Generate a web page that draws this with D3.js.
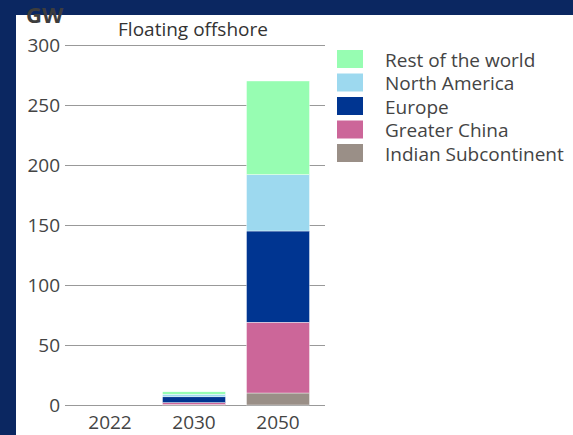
<!DOCTYPE html>
<html>
<head>
<meta charset="utf-8">
<script src="https://cdn.jsdelivr.net/npm/d3@7"></script>
<style>
  html, body { margin: 0; padding: 0; background: #0b2761; }
  svg { display: block; }
</style>
</head>
<body>
<svg></svg>
<script>
///////////////////////////////////////////
// Data
var years = ["2022", "2030", "2050"];
var regions = ["Indian Subcontinent", "Greater China", "Europe", "North America", "Rest of the world"];
var indianSub = [0, 0.3, 10];
var greaterChina = [0, 1.7, 59];
var europe = [0, 4.8, 76];
var northAmerica = [0, 2.2, 47];
var restOfWorld = [0, 2, 78];
var yTicks = [0, 50, 100, 150, 200, 250, 300];
var colors = ["#9a8f87", "#cc6699", "#003591", "#9dd9ef", "#97fdb2"];

///////////////////////////////////////////
// Layout
var svgWidth = 573, svgHeight = 435;
var svg = d3.select("svg").attr("width", svgWidth).attr("height", svgHeight);

// dark blue frame, white panel
svg.append("rect").attr("width", svgWidth).attr("height", svgHeight).attr("fill", "#0b2761");
svg.append("rect").attr("x", 16).attr("y", 15).attr("width", svgWidth - 16).attr("height", svgHeight - 15)
   .attr("fill", "#fff");

var x = d3.scaleBand().domain(years).range([68, 320]).paddingInner(0.25).paddingOuter(0.125);
var y = d3.scaleLinear().domain([0, 300]).range([405, 45]);

var font = "'Open Sans', sans-serif";
var fs = 19;

// gridlines + tick labels
var yAxis = d3.axisLeft(y).tickValues(yTicks).tickSize(-(325 - 65)).tickPadding(6);
var gy = svg.append("g").attr("transform", "translate(65,0)").call(yAxis);
gy.select(".domain").remove();
gy.selectAll(".tick line").attr("stroke", "#999").attr("stroke-width", 1.2);
gy.selectAll(".tick text").attr("fill", "#444").attr("font-family", font).attr("font-size", fs)
  .attr("font-weight", 500).attr("x", -5);

// stacked bars
var rows = years.map(function(yr, i) {
  return {year: yr, "Indian Subcontinent": indianSub[i], "Greater China": greaterChina[i],
          "Europe": europe[i], "North America": northAmerica[i], "Rest of the world": restOfWorld[i]};
});
var stack = d3.stack().keys(regions)(rows);
var color = d3.scaleOrdinal().domain(regions).range(colors);

svg.append("g").selectAll("g").data(stack).join("g")
  .attr("fill", function(d) { return color(d.key); })
  .selectAll("rect").data(function(d) { return d; }).join("rect")
  .attr("x", function(d) { return x(d.data.year); })
  .attr("width", x.bandwidth())
  .attr("y", function(d) { return y(d[1]); })
  .attr("height", function(d) { return Math.max(0, y(d[0]) - y(d[1])); })
  .attr("stroke", "#fff").attr("stroke-width", 0.4);

// x labels
var xAxis = d3.axisBottom(x).tickSize(0).tickPadding(11);
var gx = svg.append("g").attr("transform", "translate(0,405)").call(xAxis);
gx.select(".domain").remove();
gx.selectAll(".tick text").attr("fill", "#444").attr("font-family", font).attr("font-size", fs)
  .attr("font-weight", 500);

// title + unit
svg.append("text").attr("x", 193).attr("y", 36).attr("text-anchor", "middle")
  .attr("fill", "#333").attr("font-family", font).attr("font-size", fs).attr("font-weight", 500)
  .text("Floating offshore");
svg.append("text").attr("x", 26).attr("y", 23).attr("fill", "#3d3d3d")
  .attr("font-family", font).attr("font-weight", "bold").attr("font-size", 22).text("GW");

// legend
var legendOrder = regions.slice().reverse();
var lg = svg.append("g").selectAll("g").data(legendOrder).join("g")
  .attr("transform", function(d, i) { return "translate(337," + (50 + i * 23.5) + ")"; });
lg.append("rect").attr("width", 26).attr("height", 18).attr("fill", function(d) { return color(d); });
lg.append("text").attr("x", 48).attr("y", 16.5).attr("fill", "#444")
  .attr("font-family", font).attr("font-size", fs).attr("font-weight", 500)
  .text(function(d) { return d; });
</script>
</body>
</html>
